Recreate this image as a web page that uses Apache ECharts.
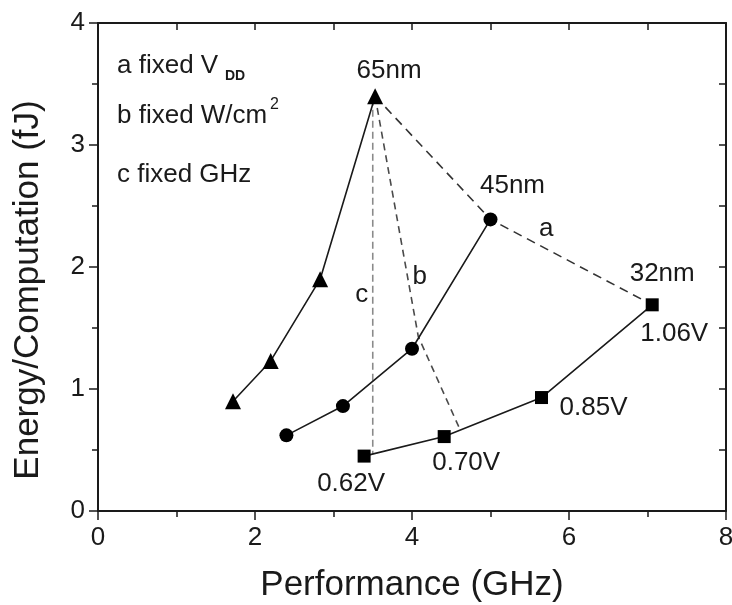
<!DOCTYPE html>
<html>
<head>
<meta charset="utf-8">
<script src="https://cdn.jsdelivr.net/npm/echarts@6/dist/echarts.min.js"></script>
<style>
  html, body { margin: 0; padding: 0; background: #fff; }
  #chart { width: 732px; height: 605px; }
</style>
</head>
<body>
<div id="chart"></div>
<script>
// Energy per computation vs. performance for three process nodes
const node65 = [[1.72, 0.90], [2.20, 1.23], [2.83, 1.90], [3.53, 3.40]];
const node45 = [[2.40, 0.62], [3.12, 0.86], [4.00, 1.33], [5.00, 2.39]];
const node32 = [[3.39, 0.45], [4.41, 0.61], [5.65, 0.93], [7.06, 1.69]];
const voltages = ['0.62V', '0.70V', '0.85V', '1.06V'];
const nodeNames = ['65nm', '45nm', '32nm'];

// Scaling paths: a fixed VDD, b fixed W/cm2, c fixed GHz
const pathA = [[3.53, 3.40], [5.00, 2.39], [7.06, 1.69]];
const pathB = [[3.53, 3.40], [4.08, 1.43], [4.61, 0.67]];
const pathC = [[3.50, 3.38], [3.50, 0.47]];
const pathNames = ['a', 'b', 'c'];
const pathNameAt = [[5.71, 2.31], [4.10, 1.92], [3.36, 1.77]];

const xTicks = [0, 2, 4, 6, 8];
const yTicks = [0, 1, 2, 3, 4];

const FONT = '"Liberation Sans", Arial, sans-serif';
const INK = '#1a1a1a';

const chart = echarts.init(document.getElementById('chart'), null, { renderer: 'canvas' });

const labelBase = { show: true, position: 'inside', color: INK, fontFamily: FONT };

function curve(data, symbol, size, labels) {
  return {
    type: 'line',
    data: data.map((p, i) => labels[i] ? { value: p, label: Object.assign({}, labelBase, labels[i]) } : { value: p }),
    symbol, symbolSize: size, showSymbol: true,
    itemStyle: { color: '#000', opacity: 1 },
    lineStyle: { color: INK, width: 1.6 },
    z: 5, animation: false
  };
}

function dashed(data, color, dash) {
  return {
    type: 'line', data, symbol: 'none',
    lineStyle: { color, width: 1.6, type: dash },
    z: 3, animation: false, silent: true
  };
}

const NODE_FS = 26, VOLT_FS = 26;

const option = {
  backgroundColor: '#fff',
  animation: false,
  grid: { left: 98, right: 6, top: 23, bottom: 94, containLabel: false, outerBoundsMode: 'none' },
  xAxis: [
    {
      type: 'value', min: xTicks[0], max: xTicks[xTicks.length - 1], interval: 2,
      position: 'bottom',
      name: 'Performance (GHz)', nameLocation: 'middle', nameGap: 57,
      nameTextStyle: { fontSize: 35, color: INK, fontFamily: FONT },
      axisLine: { show: true, onZero: false, lineStyle: { color: INK, width: 2 } },
      axisTick: { show: true, inside: false, length: 9, lineStyle: { color: INK, width: 1.5 } },
      minorTick: { show: true, splitNumber: 2, length: 6, lineStyle: { color: INK, width: 1.5 } },
      axisLabel: { fontSize: 26, color: INK, fontFamily: FONT, margin: 14 },
      splitLine: { show: false }
    },
    {
      type: 'value', min: 0, max: 8, interval: 1, position: 'top',
      axisLine: { show: true, onZero: false, lineStyle: { color: INK, width: 2 } },
      axisTick: { show: true, inside: true, length: 7, lineStyle: { color: INK, width: 1.5 } },
      axisLabel: { show: false }, splitLine: { show: false }
    }
  ],
  yAxis: [
    {
      type: 'value', min: yTicks[0], max: yTicks[yTicks.length - 1], interval: 1,
      position: 'left',
      name: 'Energy/Computation (fJ)', nameLocation: 'middle', nameGap: 52,
      nameTextStyle: { fontSize: 35, color: INK, fontFamily: FONT, padding: [0, 46, 0, 0] },
      axisLine: { show: true, onZero: false, lineStyle: { color: INK, width: 2 } },
      axisTick: { show: true, inside: false, length: 9, lineStyle: { color: INK, width: 1.5 } },
      minorTick: { show: true, splitNumber: 2, length: 6, lineStyle: { color: INK, width: 1.5 } },
      axisLabel: { fontSize: 26, color: INK, fontFamily: FONT, margin: 13 },
      splitLine: { show: false }
    },
    {
      type: 'value', min: 0, max: 4, interval: 0.5, position: 'right',
      axisLine: { show: true, onZero: false, lineStyle: { color: INK, width: 2 } },
      axisTick: { show: true, inside: true, length: 7, lineStyle: { color: INK, width: 1.5 } },
      axisLabel: { show: false }, splitLine: { show: false }
    }
  ],
  series: [
    dashed(pathA, '#333', [9, 6]),
    dashed(pathB, '#4a4a4a', [7, 5]),
    dashed(pathC, '#8a8a8a', [7, 4]),
    curve(node65, 'triangle', 16, [null, null, null,
      { formatter: nodeNames[0], offset: [14, -25], fontSize: NODE_FS }]),
    curve(node45, 'circle', 14, [null, null, null,
      { formatter: nodeNames[1], offset: [22, -34], fontSize: NODE_FS }]),
    curve(node32, 'rect', 13, [
      { formatter: voltages[0], offset: [-13, 28], fontSize: VOLT_FS },
      { formatter: voltages[1], offset: [22, 26], fontSize: VOLT_FS },
      { formatter: voltages[2], offset: [52, 10], fontSize: VOLT_FS },
      { formatter: voltages[3], offset: [22, 29], fontSize: VOLT_FS }]),
    {
      // node label for the 32nm curve sits above its 1.06V point
      type: 'scatter', data: [{ value: node32[3] }], symbolSize: 0, z: 6, animation: false,
      itemStyle: { opacity: 1 },
      label: Object.assign({}, labelBase, { formatter: nodeNames[2], offset: [10, -31], fontSize: NODE_FS })
    },
    {
      type: 'scatter', symbolSize: 0, z: 6, animation: false,
      itemStyle: { opacity: 1 },
      data: pathNames.map((n, i) => ({ value: pathNameAt[i], name: n })),
      label: Object.assign({}, labelBase, { formatter: p => p.name, fontSize: 26 })
    }
  ],
  graphic: [
    { type: 'text', left: 117, top: 53, style: { text: 'a fixed V', font: '26px ' + FONT, fill: INK } },
    { type: 'text', left: 225, top: 69, style: { text: 'DD', font: 'bold 14px ' + FONT, fill: INK } },
    { type: 'text', left: 117, top: 103, style: { text: 'b fixed W/cm', font: '26px ' + FONT, fill: INK } },
    { type: 'text', left: 270, top: 97, style: { text: '2', font: '16px ' + FONT, fill: INK } },
    { type: 'text', left: 117, top: 162, style: { text: 'c fixed GHz', font: '26px ' + FONT, fill: INK } }
  ]
};

chart.setOption(option);
</script>
</body>
</html>
